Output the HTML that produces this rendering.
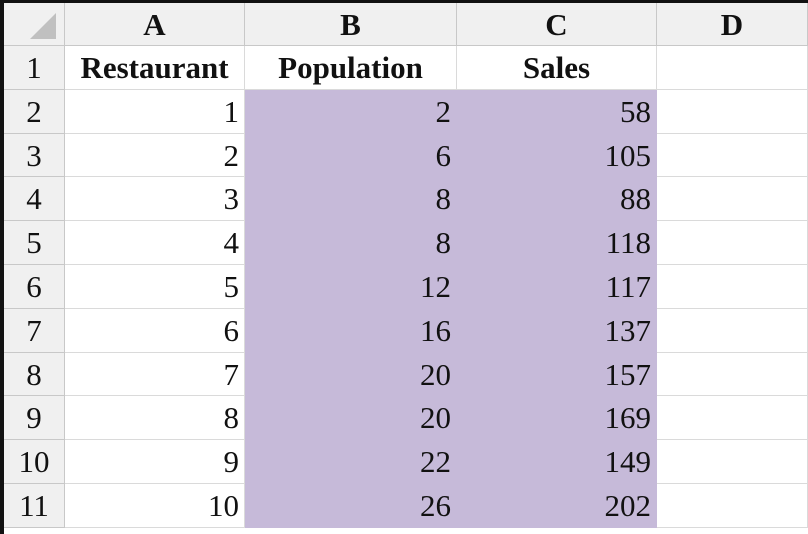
<!DOCTYPE html>
<html><head><meta charset="utf-8"><style>
body{margin:0;width:808px;height:534px;overflow:hidden;background:#fff;font-family:"Liberation Serif",serif;}
#sheet{position:absolute;left:0;top:0;width:808px;height:534px;background:#fff;}
.c{position:absolute;box-sizing:border-box;font-size:31px;line-height:44px;color:#111;white-space:nowrap;}
.hdr{background:#f0f0f0;border-right:1px solid #c8c8c8;border-bottom:1px solid #c8c8c8;text-align:center;}
.cell{border-right:1px solid #dadada;border-bottom:1px solid #dadada;padding:0 5px;}
.r{text-align:right}.ctr{text-align:center}.b{font-weight:bold}
.p{background:#c6bad9;border-color:#c6bad9;}
</style></head><body>
<div id="sheet"></div>
<script>
const rowsNum=[1,2,3,4,5,6,7,8,9,10];
const population=[2,6,8,8,12,16,20,20,22,26];
const sales=[58,105,88,118,117,137,157,169,149,202];
const cols=["A","B","C","D"];
const headers=["Restaurant","Population","Sales",""];
const colX=[65,245,457,657,805];
const top0=3,hdrH=43,rowH=43.8,left0=4;
const s=document.getElementById('sheet');
function mk(cls,x,y,w,h,txt,name,inter){
 const d=document.createElement('div');d.className='c '+cls;
 d.style.left=x+'px';d.style.top=y+'px';d.style.width=w+'px';d.style.height=h+'px';d.style.lineHeight=h+'px';
 d.textContent=txt;
 
 
 s.appendChild(d);return d;}
const bl=document.createElement('div');bl.style.cssText='position:absolute;left:0;top:0;width:4px;height:534px;background:#111';


s.appendChild(bl);
const bt=document.createElement('div');bt.style.cssText='position:absolute;left:0;top:0;width:808px;height:3px;background:#111';


s.appendChild(bt);
const corner=mk('hdr',left0,top0,colX[0]-left0,hdrH,'','select-all-corner','true');
corner.innerHTML='<svg width="60" height="42" style="position:absolute;left:0;top:0"><polygon points="52,10 52,36 26,36" fill="#c0c0c0"/></svg>';
cols.forEach((c,i)=>{mk('hdr b',colX[i],top0,colX[i+1]-colX[i]+(i==3?3:0),hdrH,c,'column-header-'+c.toLowerCase(),'true');});
for(let r=0;r<11;r++){
 const y=top0+hdrH+r*rowH;
 mk('hdr',left0,y,colX[0]-left0,rowH,String(r+1),'row-header-'+(r+1),'true');
 let vals;
 if(r==0) vals=headers; else vals=[rowsNum[r-1],population[r-1],sales[r-1],''];
 vals.forEach((v,i)=>{
  let cls='cell';
  if(r==0) cls+=' b ctr'; else cls+=' r';
  if(r>0&&(i==1||i==2)) cls+=' p';
  mk(cls,colX[i],y,colX[i+1]-colX[i]+(i==3?3:0),rowH,String(v),'cell-'+cols[i].toLowerCase()+(r+1),'true');
 });
}
</script>
</body></html>
